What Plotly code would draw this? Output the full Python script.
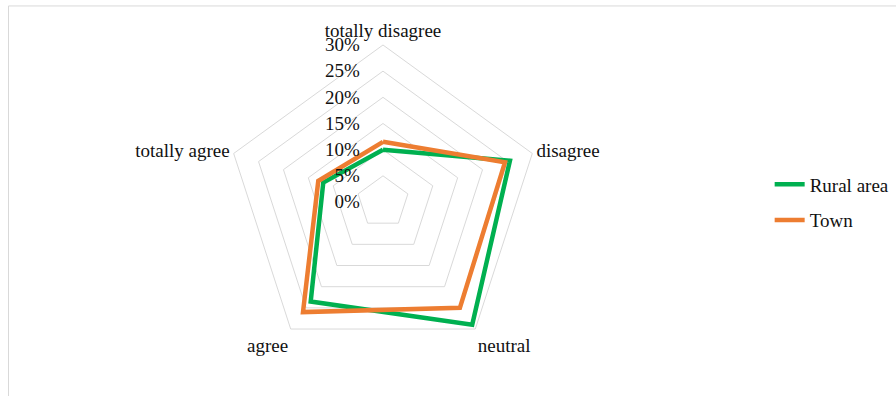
import plotly.graph_objects as go

# Survey answer categories, clockwise from the top
categories = ["totally disagree", "disagree", "neutral", "agree", "totally agree"]

# Share of respondents (%) per answer
rural_area = [10, 25.5, 29, 23.5, 12]
town = [11.5, 24.5, 25, 26, 13]

radial_ticks = [0, 5, 10, 15, 20, 25, 30]
radial_labels = [f"{v}%" for v in radial_ticks]

GREEN = "#00B050"
ORANGE = "#ED7D31"
GRID = "#D9D9D9"
FONT = "Liberation Serif"
TEXT = "#111111"


def closed(values):
    return list(values) + [values[0]]


fig = go.Figure()
fig.add_trace(go.Scatterpolar(
    r=closed(rural_area), theta=closed(categories), name="Rural area",
    mode="lines", line=dict(color=GREEN, width=4.5), legendgroup="g1",
))
fig.add_trace(go.Scatterpolar(
    r=closed(town), theta=closed(categories), name="Town",
    mode="lines", line=dict(color=ORANGE, width=4.5), legendgroup="g2",
))

fig.update_layout(
    width=896, height=396,
    margin=dict(l=0, r=0, t=0, b=0),
    paper_bgcolor="white", plot_bgcolor="white",
    font=dict(family=FONT, size=19, color=TEXT),
    showlegend=True,
    legend=dict(
        x=0.859, y=0.489, xanchor="left", yanchor="middle",
        font=dict(family=FONT, size=19, color=TEXT), tracegroupgap=8,
        traceorder="grouped", bgcolor="rgba(0,0,0,0)",
    ),
    polar=dict(
        domain=dict(x=[0.2522, 0.6027], y=[0.0934, 0.8864]),
        gridshape="linear",
        bgcolor="white",
        radialaxis=dict(
            range=[0, 30], tickvals=radial_ticks, ticktext=radial_labels,
            angle=90, tickangle=90, side="counterclockwise",
            showline=False, gridcolor=GRID, gridwidth=1,
            ticks="outside", ticklen=16, tickcolor="rgba(0,0,0,0)",
            tickfont=dict(family=FONT, size=19, color=TEXT),
        ),
        angularaxis=dict(
            rotation=90, direction="clockwise",
            showgrid=False, showline=True, linecolor=GRID, linewidth=1,
            ticks="", tickfont=dict(family=FONT, size=19, color=TEXT),
        ),
    ),
    shapes=[
        dict(type="line", xref="paper", yref="paper", x0=0.0095, x1=1.0,
             y0=0.985, y1=0.985, line=dict(color=GRID, width=1)),
        dict(type="line", xref="paper", yref="paper", x0=0.0095, x1=0.0095,
             y0=0.0, y1=0.985, line=dict(color=GRID, width=1)),
    ],
)

fig.write_html("out.html")
